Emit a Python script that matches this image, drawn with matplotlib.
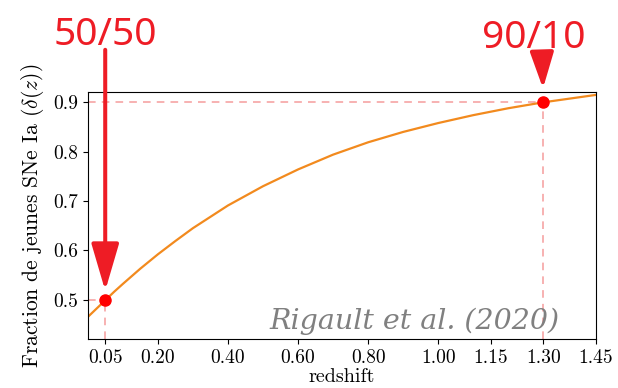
import matplotlib
matplotlib.use("Agg")
import matplotlib.pyplot as plt

# Data
z_vals = [0.00, 0.025, 0.05, 0.075, 0.10, 0.15, 0.20, 0.25, 0.30, 0.35, 0.40, 0.50, 0.60, 0.70,
          0.80, 0.90, 1.00, 1.10, 1.20, 1.30, 1.40, 1.45]
delta_vals = [0.465, 0.482, 0.499, 0.516, 0.532, 0.563, 0.592, 0.619, 0.645, 0.668, 0.691,
              0.730, 0.764, 0.794, 0.819, 0.840, 0.858, 0.874, 0.888, 0.900, 0.910, 0.915]
marked_z = [0.05, 1.30]
marked_delta = [0.50, 0.90]
marker_labels = ["50/50", "90/10"]
xticks = [0.05, 0.20, 0.40, 0.60, 0.80, 1.00, 1.15, 1.30, 1.45]
xtick_labels = ["0.05", "0.20", "0.40", "0.60", "0.80", "1.00", "1.15", "1.30", "1.45"]
yticks = [0.5, 0.6, 0.7, 0.8, 0.9]
ytick_labels = ["0.5", "0.6", "0.7", "0.8", "0.9"]

plt.rcParams['mathtext.fontset'] = 'cm'
plt.rcParams['axes.formatter.use_mathtext'] = True

fig = plt.figure(figsize=(6.18, 3.88), dpi=100)
ax = fig.add_axes([0.1419, 0.1255, 0.9644 - 0.1419, 0.7637 - 0.1255])

xmin, xmax = 0.0, 1.45
ymin, ymax = 0.42, 0.9215

dash_col = (0.93, 0.3, 0.3, 0.55)
for zx, dy in zip(marked_z, marked_delta):
    ax.plot([xmin, zx], [dy, dy], ls=(0, (5, 4)), color=dash_col, lw=1.1, zorder=1)
    ax.plot([zx, zx], [ymin, dy], ls=(0, (5, 4)), color=dash_col, lw=1.1, zorder=1)

ax.plot(z_vals, delta_vals, color='#f28a1e', lw=1.6, zorder=2, solid_joinstyle='round')
ax.plot(marked_z, marked_delta, 'o', color='#ff0000', ms=8, zorder=3)

ax.set_xlim(xmin, xmax)
ax.set_ylim(ymin, ymax)
ax.set_xticks(xticks)
ax.set_xticklabels(xtick_labels, fontfamily='cmr10', fontsize=14)
ax.set_yticks(yticks)
ax.set_yticklabels(ytick_labels, fontfamily='cmr10', fontsize=14)
ax.set_xlabel('redshift', fontfamily='cmr10', fontsize=14.5, labelpad=1)
ax.set_ylabel(r'Fraction de jeunes SNe Ia ($\delta(z)$)', fontfamily='cmr10', fontsize=15.5, labelpad=5)

ax.text(0.929, 0.042, 'Rigault et al. (2020)', transform=ax.transAxes, ha='right', va='baseline',
        fontfamily='DejaVu Serif', fontstyle='italic', fontsize=20.5, color='#808080', zorder=4)

arrow_red = '#ee1c25'
# 50/50 arrow
ax.annotate('', xy=(marked_z[0], marked_delta[0]), xycoords='data',
            xytext=(0, 250), textcoords='offset pixels',
            arrowprops=dict(arrowstyle='-|>,head_length=29,head_width=8.5', mutation_scale=1,
                            color=arrow_red, lw=2.9, shrinkA=0, shrinkB=6.5), zorder=5)
# 90/10 arrow
ax.annotate('', xy=(marked_z[1], marked_delta[1]), xycoords='data',
            xytext=(-1.5, 50), textcoords='offset pixels',
            arrowprops=dict(arrowstyle='-|>,head_length=22,head_width=7.2', mutation_scale=1,
                            color=arrow_red, lw=2.9, shrinkA=0, shrinkB=10), zorder=5)

fig.text(105 / 618, 1 - 45 / 388, marker_labels[0], ha='center', va='baseline',
         fontfamily='Noto Sans', fontsize=28, color=arrow_red)
fig.text(534 / 618, 1 - 48 / 388, marker_labels[1], ha='center', va='baseline',
         fontfamily='Noto Sans', fontsize=28, color=arrow_red)

fig.savefig('out.png', dpi=100)
